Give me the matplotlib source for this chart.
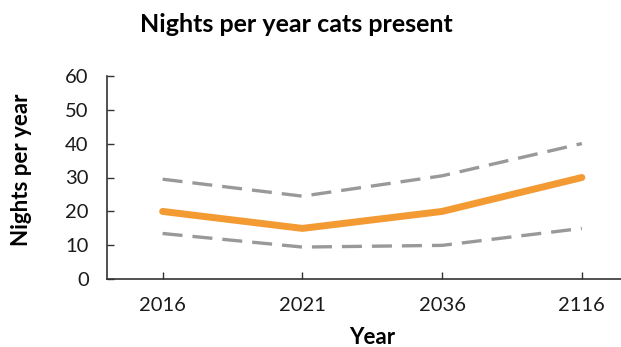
import matplotlib
matplotlib.use("Agg")
import matplotlib.pyplot as plt

years = ["2016", "2021", "2036", "2116"]
mean_vals = [20, 15, 20, 30]
upper_vals = [29.5, 24.5, 30.5, 40]
lower_vals = [13.5, 9.5, 10, 15]
y_ticks = [0, 10, 20, 30, 40, 50, 60]

plt.rcParams['font.family'] = ['Lato', 'DejaVu Sans']

W, H = 621, 347
fig = plt.figure(figsize=(W/100, H/100), dpi=100)
ax = fig.add_axes([106.7/W, 1-279.3/H, 1-106.7/W, (279.3-75.7)/H])

x = list(range(len(years)))
ax.plot(x, upper_vals, color='#999999', lw=2.4, dashes=(6, 3))
ax.plot(x, lower_vals, color='#999999', lw=2.4, dashes=(6, 3))
ax.plot(x, mean_vals, color='#F39A33', lw=5, solid_capstyle='round')

ax.set_xlim(-0.4, 3.28)
ax.set_ylim(0, 60)
ax.set_yticks(y_ticks)
ax.set_xticks(x)
ax.set_xticklabels(years)
for s in ['top', 'right']:
    ax.spines[s].set_visible(False)
for s in ['left', 'bottom']:
    ax.spines[s].set_color('#333333')
    ax.spines[s].set_linewidth(1.2)
ax.tick_params(direction='in', length=5, width=1, colors='#333333', labelsize=14.5, labelcolor='#1a1a1a')
ax.tick_params(axis='x', pad=13)
ax.tick_params(axis='y', pad=13)

fig.text(296/W, 1-25/H, "Nights per year cats present", ha='center', va='center',
         fontsize=18, fontweight='bold', color='#000000')
fig.text(22/W, 1-170/H, "Nights per year", ha='center', va='center', rotation=90,
         fontsize=16, fontweight='bold', color='#000000')
fig.text(372/W, 1-337/H, "Year", ha='center', va='center',
         fontsize=16, fontweight='bold', color='#000000')

fig.savefig("out.png", dpi=100)
